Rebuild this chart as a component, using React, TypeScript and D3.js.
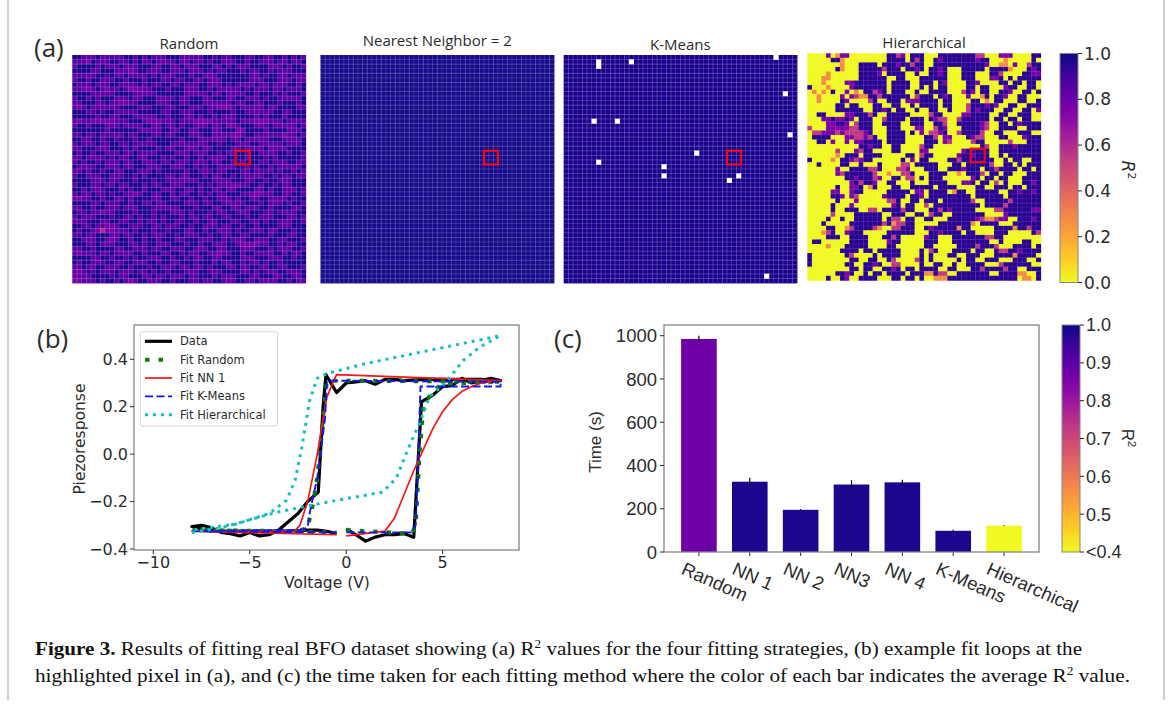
import React from "react";
import * as d3 from "d3";

// ---------- Panel (a) data: one character per pixel ----------
const levelRandom: Record<string, number> = { d: 0.97, p: 0.83, b: 0.76, m: 0.6 };
const levelHier: Record<string, number> = { y: 0.0, d: 0.95, p: 0.75, m: 0.55, o: 0.28 };

const randomRows = [
  "ddpppdpppp pddpdpdppp dddpppppdd pdppdddppd dppddpdpdp",
  "pppbdpppdd ppdpdppdpp ppdppdppdp ddpppddpdd pppdppdppd",
  "pddddpdppp dpppdddppd dppdpppddd ppdpdpppdd ddpppdpddp",
  "ddddppdddp ppbpddpppd dpppdpppdp dppdddpdpp ddpdpppddd",
  "pppppddpdp pdppppdpdp ppdddpddpp pdddddddpp dpddppdppp",
  "pddpddpppd dpdddpdddp pdppddppdp ppddddddpp pdddpppdpp",
  "dpppdpppdd ppppdpdppd dppdpppddp ppdpdppppd ppdpppddpd",
  "ppbbpdpbpp dpbbbppddd pdddpppddp dpppppdpdp ppdppdpppd",
  "ddddpppppd dddpppppdd ddddpppppd ppdppppddp dddpdpdddp",
  "pddpdpdddp ppdppdddpp ppdppdddpp dddppddppp dpddpppppd",
  "ppdddppdpp bbppddddpp pddppdddpp ppppdppddp pdddpdddpd",
  "pbpdpppppp ddddpppddd ppdddpppdp pbbbpdpppp pdppddddpp",
  "dddppdpddp ppppdddddp pddpppdddp ddddpddppp pppddppddd",
  "dddddpddpp dddpppppdd pdddppdpdd pdpppddddp dpdddpdddd",
  "pbppbbbbbp ppdddpbbbp ppdpppbbbb pppppdppbb bbpppdpppp",
  "pddpdddppp dppppddppd ppdpddpppd ppdbbpdddp ppdpppppdp",
  "dddddddpdd ddddpppppd dppddppddd ppdddbbddd dpddddpppd",
  "ppdppdpppp pdppdddppd ppdddpppdd ppppbbpddp pppppbppdp",
  "ddppddpddp dddpddpddd dddpdddppp pppdppdppp ppdddppppd",
  "pdpppdppdd ppdpppppdd dppppppppd dpdddpppdd pppppdpppd",
  "ppdddpppdd dpdpddddpd ppddpppdpp ddddppdppp pdppppdddd",
  "dpddpddppp dppdppppdd ddpppdpppd dpdppddpdd ppppddpddp",
  "ppdppppdpd ppddppdddp dpddpddpdp pppddddpdd dpdpdddddp",
  "pdpddpdppp dppddpppdp pdpppdpppd ppddpdpddd ppdpppddpp",
  "dppppddppp dppdddpppd dpppddpdpd dppppddpdp ddpdpppppd",
  "ppdpddpddp pdddpppdpd ddddpddppp dppdddppdp pppdpddpdp",
  "pddpppddpp pddpdpdddd ppdppdddpd ppddpdpppp pddpdppdpp",
  "ddddpppdpp dddpdddpdd pppppppddd ppppdddppd dpddpppddd",
  "pdddppdppd ppdddpdppd dpppdddpdp dpppbbppdd pddpdppddd",
  "ddpdpppddd pdpddpdddp ppddppdpdd ppdppddddp pdpddpppdp",
  "pdppdppdpd dppbpddppd dpdppddpdp dppdddppbb bppddppddp",
  "bbppddpddp pdpddddppd dppddpddpd dpppdpddpp ddppppdpdd",
  "ddddppdppp ddpddppdpp ddddpppdpp ddpppppddd pdpppdpddp",
  "ppddpddppp dpppdddppp pppdddpddd ppddppdppp ddpddddppd",
  "dppdppbppd dddpdddpdd dpppdpdddp dppddpppdd dppdppppdd",
  "pdpppdddpd dppdpddpdp dddpdppdpp ddppdddpdd pppdddppdp",
  "pppdddppdd ppddpdppdp ddppddpddp pdddppddpp dpddpppddp",
  "ddppdppbbp ddpppddppd pppddpddpp pdppddpddp ddddpppddd",
  "dpddpbmbbp ppdpdddpdd pdddppddpd dpppdpddpp pdppdddpdd",
  "ppdppdddpp dppddpdppp ddpdpppddp ddppddppdd ddpdddppdd",
  "ddpppddpbp ddpddpddpd ddppdddppp ddpdpppddp ppddppdddp",
  "dddppdpppd ddppdpddpp pdddpddpdd pppddpbbbb ppddpdppdd",
  "ppddpddddp pddpppdppd dpppddpppd dppdddpppd ddpdpppddp",
  "pbpppdppdp pppddpdddp pddpdppddp pbppddpddp pppddpdppd",
  "ddddppddpd dpdpddpppd dpddpdppdd ppddddpppd ddpppddpdd",
  "dpddpppddp pddpppddpd dppdddpddd pdppddpdpp dpddpddddd",
  "ppdppddppp ddpdddpddp ppdppdppdp dddppdppdd ppddppdddp",
  "pbpdpdpppd pppdppdpdd pdddpppddp ppddddppdp dpppddpppd",
  "ppppddddpd ppdddppdpp dpppdppddd pdpppdddpp dddppddppd",
  "bbpppdpddp dpbpddpppd dpdddppdpp ddpppddppd ppppddpdpp",
];

const hierLeftRows = [
  "yyyypyoppyyyyyyyyddmpyddd", "yyyyyddoyyyyyyyyyddddydmd", "yyyyyyyoyyyddddydddpddmdd", "yyyyyydoyyydddddmdddyddpd",
  "yyyyoyyyyyyddddpyddddyydy", "yyyooyyyyyyddddddyyddyyyd", "yyyoyyyyppdddddddyddddyyd", "dyyyoyyyypdddddddyddddyyd",
  "yoyoydyypyoyddmpdydddyydy", "yyoyyyypypmooddmddddddymd", "yyoyyyydpyyyymdyydddypppd", "yyyyyyddyddyyyddyyddyydyd",
  "yyyyyyddddddyyddpdyddyydy", "yyddyyyyppdddmdyydddddyyy", "yyyppdppdpydddyymddddyddd", "yyyyppddpymdddyyddddyyddd",
  "myyypppppmmdddyyydddyyypp", "ymmpppmpmmmmpdyyyddddydyp", "yddddyyyppmmpmdyyddddyyyy", "yyddypyypyppddddyddddyyyy",
  "yyyyyyyyyyyddpddyyddyyyym", "yyyyyymyyypmddyyyyddyyyyp", "yyyyyyoydddyddddyyyyyddym", "dyyyyoyddpmpddyyyyyydypyd",
  "yydyyyyddyydyyydyyyymmydd", "yyyyyypyyddddmmdyyymmpyyy", "yyyyyypmddddddmyyoyymmdyy", "yyyyyyyyddpdddmpyyddymmyd",
  "yyyyyyyyypdmddpyyddyyydyy", "yyyyyydyyppdyodyyyddyyddd", "yyyyyppyypddyyyyydddddypp", "yyyyyddpypmyyyyypddddyddp",
  "yyyyyydyyypyyyyyymmdyyddy", "yyyyydyyypyyyyyyyypdyddyy", "yyyyydyydddyymmyddddmddyy", "yyyyymyyyyddddddyydddyydd",
  "yyyydyydyyddddddydmmyddyy", "yyydyyyyydddddddmdommddyy", "yyyyddyyomddddmoyymmdddyy", "yyyomdyypdddyyyyyddddddyy",
  "yyyydddyyddddyyyddmdyyyyy", "yddyyyyyyddddyyyypddyyyyy", "yyyyoyyydddddyyyyddyyyyyy", "yyyyyyyddddyddydddddyyyyd",
  "dyyyyyyydmyyyydyddddyyyyd", "dyyyyyyyyddyyddyydmyyyymd", "dyyyyyyyddyyddpdyymmyyyyd", "yyyyyyyyyddyddyyddpdyddyd",
  "yyyyyyddpdyydyddyddddyddd", "yyyydyydpyyddddyyyddyddyd",
];
const hierRightRows = [
  "yyyddddddddmmyyypppyyyydd", "yydpdddddddpddyyyoyyyyydy", "yydddddddddddpyyooypyymdd", "yddpdyyydddddyddddoyyydpd",
  "yddpdyyydddyyyddmyyyyddpp", "dddddyyydddyyyppdydyddddd", "ddydpyyyyddpyyyyddyddyddy", "ydyddyyyyddyddyyypddyyddy",
  "yddddyyymdpyddyyddpyyddyd", "ddydpdyyypyyodyddpyyddyyy", "dddyddyyyyddyoyddyyyddyyd", "dddyddyyymdddpdpyyddyyddd",
  "yddyydyyymdpdddyyddyyddyp", "ymddyyyyppddddyyddyydddyy", "ydpmmyymddddddyddyddyddyy", "yyddmyydddddpmyyddydpdddd",
  "yymdpyyyddddpmyyddddyyddd", "ymmpdyymddddmyyddyyydddyy", "ddmyppyyydpmmyyyddyyypddd", "dddypmyyyymddyyyyymyyyddd",
  "ddyyyyyyyyyydmyydddpddddd", "pyyyyyyypdddddyyddddddddd", "ddyyyyypddpdddyydyddddddd", "dyyyyddmdddddddyydyddyydd",
  "dddyyyddydddddmyyddydyddd", "dddyydddpdddyddmddddyddyd", "yddddyyoydddmyddyddyyyddd", "ydddyyyyyypdyddyddyyydddd",
  "yddddyyyppdyddymydyyyddpd", "ddyddddyyyyddyydddyddyddd", "yddddyoddyydddddyyddpddpd", "ydddddddddyddddddyddddddd",
  "dddyddddddmyydddddmdddddd", "myddddddddddyddddmddddddd", "yddmdpdddddyyyymmddddddpp", "ymddyydddddddyyyypddddddd",
  "ddyyyddddddpmoomppyydddpd", "yyydddddddoyddddyyydddddd", "dpdddddoddyyyyyddddoddmdd", "yddpddddyddyyyydddyyyyydm",
  "pddyyydddddddmmddyyyyyyyy", "dddyyyddddddddyydyyyyddyy", "ddyyyyyddddmdddmyyyddddyd", "ymdyyyddddyddyydmmddpdddd",
  "ydyyyddyydddyyyddddoddddy", "ydyyyyydyddyydddyyydddyyd", "yyddyydyyddddyyymddddddyy", "dddyyddyyyddmddddmddyyddd",
  "oodmmyydddddddyyddddooyyd", "yyooodddddddddddddddyooyd",
];

const kmeansBlankRows = [0, 1, 2, 1, 8, 14, 14, 17, 21, 23, 24, 26, 26, 27, 48];
const kmeansBlankCols = [45, 7, 7, 14, 47, 6, 11, 48, 28, 7, 21, 21, 37, 35, 43];
const nnValue = 0.985;
const kmeansValue = 0.98;
const highlightRows = [21, 22, 23];
const highlightCols = [35, 36, 37];

const heatTitles = ["Random", "Nearest Neighbor = 2", "K-Means", "Hierarchical"];
const r2Ticks = [0, 0.2, 0.4, 0.6, 0.8, 1.0];

// ---------- Panel (b) data ----------
const dataV = [0, 0.5, 1, 1.5, 2, 2.5, 3, 3.5, 3.9, 4.5, 5, 5.5, 6, 6.5, 7, 7.5, 8, 7.5, 7, 6, 5, 4, 3, 2.5, 2, 1.5, 1, 0.5, 0, -0.5, -1.05, -1.2, -1.45, -2, -2.5, -3, -3.5, -4, -4.5, -5, -5.5, -6, -6.5, -7, -7.5, -8, -7, -6, -5, -4, -3, -2, -1.5, -1, -0.5];
const dataP = [-0.315, -0.34, -0.367, -0.35, -0.34, -0.34, -0.335, -0.35, 0.22, 0.25, 0.285, 0.29, 0.32, 0.3, 0.31, 0.32, 0.31, 0.31, 0.315, 0.315, 0.315, 0.315, 0.31, 0.315, 0.315, 0.295, 0.31, 0.305, 0.3, 0.26, 0.335, 0.2, -0.16, -0.2, -0.25, -0.285, -0.32, -0.34, -0.345, -0.33, -0.345, -0.335, -0.33, -0.31, -0.3, -0.305, -0.325, -0.325, -0.325, -0.325, -0.325, -0.32, -0.32, -0.325, -0.335];
const randomV = [0, 3.4, 3.6, 3.8, 4, 4.5, 5, 6, 8, 0, -1, -1.15, -1.5, -1.75, -2, -2.5, -8, -0.5];
const randomP = [-0.32, -0.335, -0.3, 0, 0.2, 0.27, 0.295, 0.3, 0.305, 0.31, 0.31, 0.2, -0.1, -0.22, -0.31, -0.325, -0.32, -0.33];
const nnV = [0, 2, 2.5, 3, 3.5, 4, 4.5, 5, 5.5, 6, 6.5, 7, 8, -0.5, -0.7, -1, -1.2, -1.5, -2, -2.4, -2.7, -8, -0.5];
const nnP = [-0.345, -0.325, -0.27, -0.17, -0.07, 0.02, 0.11, 0.18, 0.23, 0.265, 0.285, 0.3, 0.31, 0.335, 0.3, 0.24, 0.15, 0, -0.2, -0.3, -0.325, -0.325, -0.34];
const kmV = [0, 3.4, 3.6, 3.7, 3.85, 8, 8, -1, -1.1, -1.5, -1.9, -2, -2.4, -8, -0.5];
const kmP = [-0.33, -0.33, -0.3, -0.1, 0.285, 0.285, 0.305, 0.31, 0.15, -0.1, -0.25, -0.31, -0.32, -0.325, -0.33];
const hierV = [-8, -6.45, -3.6, -0.85, 1.9, 2.6, 3.3, 3.8, 4.3, 5.2, 6.06, 6.9, 8, 0.9, -1, -1.5, -1.9, -2.3, -2.65, -3.1, -4, -5.7, -8];
const hierP = [-0.33, -0.31, -0.245, -0.2, -0.16, -0.1, 0.04, 0.13, 0.24, 0.305, 0.395, 0.45, 0.5, 0.38, 0.34, 0.32, 0.225, 0.03, -0.11, -0.195, -0.25, -0.295, -0.32];
const legendNames = ["Data", "Fit Random", "Fit NN 1", "Fit K-Means", "Fit Hierarchical"];
const voltTicks = [-10, -5, 0, 5];
const pTicks = [-0.4, -0.2, 0, 0.2, 0.4];

// ---------- Panel (c) data ----------
const methods = ["Random", "NN 1", "NN 2", "NN3", "NN 4", "K-Means", "Hierarchical"];
const times = [985, 325, 195, 312, 322, 98, 122];
const timeErr = [15, 18, 4, 20, 12, 5, 2];
const meanR2 = [0.875, 0.985, 0.985, 0.985, 0.985, 0.985, 0.4];
const timeTicks = [0, 200, 400, 600, 800, 1000];
const avgTicks = [0.4, 0.5, 0.6, 0.7, 0.8, 0.9, 1.0];

// ---------- Helpers ----------
const plasmaR = (v: number) => d3.interpolatePlasma(1 - v);
const GRAY = "#858585";
const INK = "#2b2b2b";
const DEJA = "DejaVu Sans";
const SANS = "Open Sans";
const idx = d3.range(50);

type Cell = { r: number; c: number; v: number | null };

function cellsRandom(): Cell[] {
  return randomRows.flatMap((row, r) =>
    row.replace(/ /g, "").split("").map((ch, c) => ({ r, c, v: levelRandom[ch] }))
  );
}
function cellsHier(): Cell[] {
  return hierLeftRows.flatMap((left, r) =>
    (left + hierRightRows[r]).split("").map((ch, c) => ({ r, c, v: levelHier[ch] }))
  );
}
function cellsNN(): Cell[] {
  return idx.flatMap((r) => idx.map((c) => ({ r, c, v: nnValue })));
}
function cellsKM(): Cell[] {
  const blank = new Set(kmeansBlankRows.map((r, i) => `${r}:${kmeansBlankCols[i]}`));
  return idx.flatMap((r) => idx.map((c) => ({ r, c, v: blank.has(`${r}:${c}`) ? null : kmeansValue })));
}

function Heat({ x0, x1, y0, y1, cells, grid, title, titleY }: { x0: number; x1: number; y0: number; y1: number; cells: Cell[]; grid: number; title: string; titleY: number }) {
  const xs = d3.scaleBand<number>().domain(idx).range([x0, x1]);
  const ys = d3.scaleBand<number>().domain(idx).range([y0, y1]);
  const bw = xs.bandwidth();
  const bh = ys.bandwidth();
  const hx = xs(highlightCols[0])!;
  const hy = ys(highlightRows[0])!;
  return (
    <g>
      <g filter="url(#soft)">
        {cells.map((d) =>
          d.v === null ? null : (
            <rect key={`${d.r}-${d.c}`} x={xs(d.c)} y={ys(d.r)} width={bw + 0.4} height={bh + 0.4} fill={plasmaR(d.v)} />
          )
        )}
        {idx.slice(1).map((i) => (
          <line key={"v" + i} x1={xs(i)} x2={xs(i)} y1={y0} y2={y1} stroke="#fff" strokeWidth={0.55} opacity={grid} />
        ))}
        {idx.slice(1).map((i) => (
          <line key={"h" + i} y1={ys(i)} y2={ys(i)} x1={x0} x2={x1} stroke="#fff" strokeWidth={0.55} opacity={grid} />
        ))}
        {cells.filter((d) => d.v === null).map((d) => (
          <rect key={`b${d.r}-${d.c}`} x={xs(d.c)! - 0.2} y={ys(d.r)! - 0.2} width={bw + 0.4} height={bh + 0.4} fill="#fff" />
        ))}
      </g>
      <rect x={hx} y={hy} width={bw * highlightCols.length} height={bh * highlightRows.length} fill="none" stroke="#ee0b16" strokeWidth={2.2} />
      <text x={(x0 + x1) / 2} y={titleY} textAnchor="middle" fontFamily={SANS} fontSize={15} fill={INK}>{title}</text>
    </g>
  );
}

function ColorBar({ id, x, w, y0, y1, domain, ticks, labels, fontFamily, fontSize }: { id: string; x: number; w: number; y0: number; y1: number; domain: [number, number]; ticks: number[]; labels: (t: number) => string; fontFamily: string; fontSize: number }) {
  const y = d3.scaleLinear().domain(domain).range([y1, y0]);
  const stops = d3.range(0, 1.001, 0.05);
  return (
    <g>
      <defs>
        <linearGradient id={id} x1="0" x2="0" y1="1" y2="0">
          {stops.map((s) => (
            <stop key={s} offset={s} stopColor={plasmaR(s)} />
          ))}
        </linearGradient>
      </defs>
      <rect x={x} y={y0} width={w} height={y1 - y0} fill={`url(#${id})`} stroke={GRAY} strokeWidth={1} />
      {ticks.map((t) => (
        <g key={t}>
          <line x1={x + w} x2={x + w + 4} y1={y(t)} y2={y(t)} stroke={INK} strokeWidth={1} />
          <text x={x + w + 6} y={y(t)} dy="0.36em" fontFamily={fontFamily} fontSize={fontSize} fill={INK}>{labels(t)}</text>
        </g>
      ))}
    </g>
  );
}

function R2Label({ x, y, italic, family }: { x: number; y: number; italic: boolean; family: string }) {
  return (
    <text transform={`translate(${x},${y}) rotate(90)`} textAnchor="middle" fontFamily={family} fontSize={17} fontStyle={italic ? "italic" : "normal"} fill={INK}>
      R<tspan dy="-6" fontSize={11} fontStyle="normal">2</tspan>
    </text>
  );
}

const lineStyles = [
  { color: "#000000", width: 3.2, dash: "" },
  { color: "#0a7d0a", width: 4, dash: "4.5 9" },
  { color: "#f81414", width: 1.7, dash: "" },
  { color: "#1414f0", width: 1.9, dash: "8 3.5" },
  { color: "#16bfbf", width: 3, dash: "3 5" },
];

function LoopPanel() {
  const x = d3.scaleLinear().domain([-10, 5]).range([153.3, 442.7]);
  const y = d3.scaleLinear().domain([-0.4, 0.4]).range([549, 359.3]);
  const line = d3.line<number>().x((v) => x(v));
  const path = (vs: number[], ps: number[]) =>
    d3.line<number>().x((_, i) => x(vs[i])).y((_, i) => y(ps[i]))(vs) ?? "";
  const series = [
    path(dataV, dataP),
    path(randomV, randomP),
    path(nnV, nnP),
    path(kmV, kmP),
    path(hierV, hierP),
  ];
  void line;
  const L = 134, R = 519, T = 325, B = 550;
  const legY = d3.scalePoint<string>().domain(legendNames).range([341.3, 414.7]);
  return (
    <g>
      <g filter="url(#soft)">
        {series.map((d, i) => (
          <path key={i} d={d} fill="none" stroke={lineStyles[i].color} strokeWidth={lineStyles[i].width} strokeDasharray={lineStyles[i].dash} strokeLinejoin="round" />
        ))}
      </g>
      <rect x={L} y={T} width={R - L} height={B - T} fill="none" stroke={GRAY} strokeWidth={1.3} />
      {voltTicks.map((t) => (
        <g key={t}>
          <line x1={x(t)} x2={x(t)} y1={B} y2={B + 4} stroke={INK} />
          <text x={x(t)} y={568} textAnchor="middle" fontFamily={DEJA} fontSize={16} fill={INK}>{d3.format("d")(t).replace("-", "\u2212")}</text>
        </g>
      ))}
      {pTicks.map((t) => (
        <g key={t}>
          <line x1={L - 4} x2={L} y1={y(t)} y2={y(t)} stroke={INK} />
          <text x={L - 6} y={y(t)} dy="0.36em" textAnchor="end" fontFamily={DEJA} fontSize={16} fill={INK}>{d3.format(".1f")(t).replace("-", "\u2212")}</text>
        </g>
      ))}
      <text x={327} y={588} textAnchor="middle" fontFamily={DEJA} fontSize={15.5} fill={INK}>Voltage (V)</text>
      <text transform="translate(85,439) rotate(-90)" textAnchor="middle" fontFamily={DEJA} fontSize={15.5} fill={INK}>Piezoresponse</text>
      <rect x={140.3} y={331.7} width={137.4} height={94.3} rx={2} fill="#fff" fillOpacity={0.85} stroke="#d8d8d8" />
      {legendNames.map((n, i) => (
        <g key={n}>
          <line x1={145} x2={172} y1={legY(n)} y2={legY(n)} stroke={lineStyles[i].color} strokeWidth={lineStyles[i].width} strokeDasharray={lineStyles[i].dash} />
          <text x={180} y={legY(n)} dy="0.36em" fontFamily={DEJA} fontSize={11.5} fill={INK}>{n}</text>
        </g>
      ))}
    </g>
  );
}

function TimePanel() {
  const x = d3.scaleBand<string>().domain(methods).range([673.5, 1029.5]).paddingInner(0.3).paddingOuter(0.15);
  const y = d3.scaleLinear().domain([0, 1000]).range([552, 335.7]);
  const L = 664, R = 1039, T = 325, B = 552;
  const FAM = "Liberation Sans";
  const bw = x.bandwidth();
  return (
    <g>
      {methods.map((m, i) => {
        const cx = x(m)! + bw / 2;
        return (
          <g key={m}>
            <rect x={x(m)} y={y(times[i])} width={bw} height={B - y(times[i])} fill={plasmaR((meanR2[i] - 0.4) / 0.6)} />
            <line x1={cx} x2={cx} y1={y(times[i] + timeErr[i])} y2={y(times[i] - timeErr[i])} stroke="#000" strokeWidth={1.2} />
            <line x1={cx} x2={cx} y1={B} y2={B + 4} stroke={INK} />
            <text transform={`translate(${cx - 15},${B + 13}) rotate(24)`} dy="0.5em" fontFamily={FAM} fontSize={18.5} fill={INK}>{m}</text>
          </g>
        );
      })}
      <rect x={L} y={T} width={R - L} height={B - T} fill="none" stroke={GRAY} strokeWidth={1.3} />
      {timeTicks.map((t) => (
        <g key={t}>
          <line x1={L - 4} x2={L} y1={y(t)} y2={y(t)} stroke={INK} />
          <text x={L - 7} y={y(t)} dy="0.36em" textAnchor="end" fontFamily={FAM} fontSize={18.5} fill={INK}>{t}</text>
        </g>
      ))}
      <text transform="translate(601,442) rotate(-90)" textAnchor="middle" fontFamily={FAM} fontSize={17} fill={INK}>Time (s)</text>
      <ColorBar id="cbC" x={1062} w={18} y0={325} y1={552} domain={[0.4, 1]} ticks={avgTicks} labels={(t) => (t === 0.4 ? "<0.4" : d3.format(".1f")(t))} fontFamily={FAM} fontSize={18} />
      <R2Label x={1122} y={438} italic={false} family={FAM} />
    </g>
  );
}

export default function App() {
  const heatY0 = 55, heatY1 = 283;
  return (
    <svg width={1170} height={708} viewBox="0 0 1170 708" style={{ position: "absolute", left: 0, top: 0, display: "block", background: "#fff" }}>
      <defs>
        <filter id="soft" x="-2%" y="-2%" width="104%" height="104%">
          <feGaussianBlur stdDeviation="0.35" />
        </filter>
      </defs>
      <line x1={8} x2={8} y1={0} y2={700} stroke="#cfcfcf" strokeWidth={2} />
      <line x1={1164} x2={1164} y1={0} y2={700} stroke="#cfcfcf" strokeWidth={2} />

      <text x={34} y={57} fontFamily={SANS} fontSize={26} fill={INK}>(a)</text>
      <text x={37} y={348} fontFamily={SANS} fontSize={26} fill={INK}>(b)</text>
      <text x={554} y={348} fontFamily={SANS} fontSize={26} fill={INK}>(c)</text>

      <Heat x0={72.3} x1={305.7} y0={heatY0} y1={heatY1} cells={cellsRandom()} grid={0.32} title={heatTitles[0]} titleY={49} />
      <Heat x0={320.5} x1={554} y0={heatY0} y1={heatY1} cells={cellsNN()} grid={0.32} title={heatTitles[1]} titleY={46} />
      <Heat x0={563.7} x1={797} y0={heatY0} y1={heatY1} cells={cellsKM()} grid={0.32} title={heatTitles[2]} titleY={50} />
      <Heat x0={807.3} x1={1040.7} y0={53.3} y1={280.3} cells={cellsHier()} grid={0.12} title={heatTitles[3]} titleY={48} />

      <ColorBar id="cbA" x={1060} w={18} y0={53.5} y1={282.5} domain={[0, 1]} ticks={r2Ticks} labels={(t) => d3.format(".1f")(t)} fontFamily={DEJA} fontSize={17} />
      <R2Label x={1122} y={170} italic={true} family={DEJA} />

      <LoopPanel />
      <TimePanel />

      <g fontFamily="Liberation Serif" fontSize={19} fill="#111">
        <text x={35} y={655} textLength={1047} lengthAdjust="spacingAndGlyphs">
          <tspan fontWeight="bold">Figure 3.</tspan> Results of fitting real BFO dataset showing (a) R<tspan dy="-7" fontSize={12}>2</tspan><tspan dy="7"> values for the four fitting strategies, (b) example fit loops at the</tspan>
        </text>
        <text x={35} y={682} textLength={1095} lengthAdjust="spacingAndGlyphs">
          highlighted pixel in (a), and (c) the time taken for each fitting method where the color of each bar indicates the average R<tspan dy="-7" fontSize={12}>2</tspan><tspan dy="7"> value.</tspan>
        </text>
      </g>
    </svg>
  );
}
